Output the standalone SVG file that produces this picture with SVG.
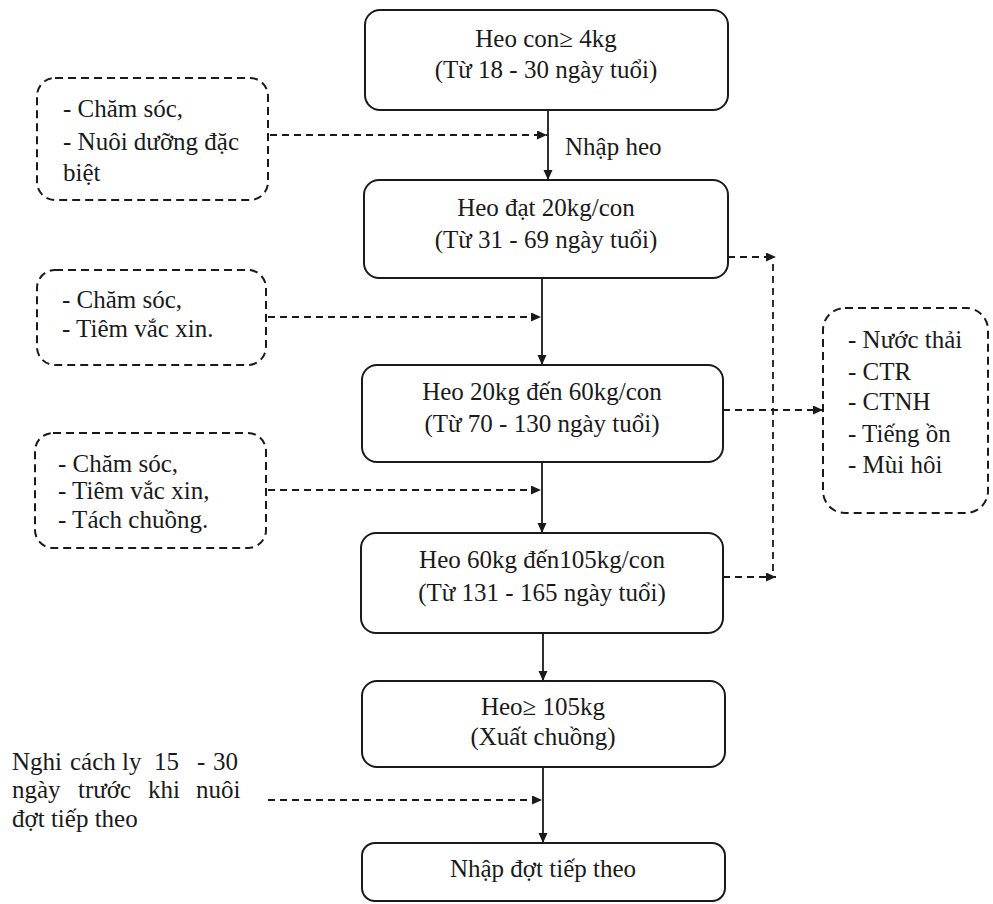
<svg xmlns="http://www.w3.org/2000/svg" width="993" height="904" viewBox="0 0 993 904" font-family="'Liberation Serif', 'DejaVu Serif', serif">
<style>
text{font-family:'Liberation Serif','DejaVu Serif',serif;font-size:25px;fill:#1a1a1a}
.c{text-anchor:middle}
.box{fill:#fff;stroke:#1a1a1a;stroke-width:2}
.dbox{fill:#fff;stroke:#1a1a1a;stroke-width:2;stroke-dasharray:8 5}
.ln{fill:none;stroke:#1a1a1a;stroke-width:1.8}
.dl{fill:none;stroke:#1a1a1a;stroke-width:1.8;stroke-dasharray:7 5}
</style>
<defs>
<marker id="ah" markerWidth="11" markerHeight="10" refX="10" refY="4.5" orient="auto" markerUnits="userSpaceOnUse">
<path d="M0,0 L10,4.5 L0,9 z" fill="#1a1a1a"/>
</marker>
</defs>
<rect width="993" height="904" fill="#fff"/>
<g id="connectors">
<line class="ln" x1="548" y1="110" x2="548" y2="180" marker-end="url(#ah)"/>
<line class="ln" x1="542" y1="278" x2="542" y2="365" marker-end="url(#ah)"/>
<line class="ln" x1="542" y1="462" x2="542" y2="533" marker-end="url(#ah)"/>
<line class="ln" x1="543" y1="633" x2="543" y2="681" marker-end="url(#ah)"/>
<line class="ln" x1="543" y1="767" x2="543" y2="843" marker-end="url(#ah)"/>
<line class="dl" x1="270" y1="135" x2="547" y2="135" marker-end="url(#ah)"/>
<line class="dl" x1="268" y1="317" x2="541" y2="317" marker-end="url(#ah)"/>
<line class="dl" x1="268" y1="490" x2="541" y2="490" marker-end="url(#ah)"/>
<line class="dl" x1="268" y1="800" x2="542" y2="800" marker-end="url(#ah)"/>
<line class="dl" x1="728" y1="257" x2="776" y2="257" marker-end="url(#ah)"/>
<line class="dl" x1="773" y1="264" x2="773" y2="572"/>
<line class="dl" x1="723" y1="577" x2="776" y2="577" marker-end="url(#ah)"/>
<line class="dl" x1="723" y1="410" x2="823" y2="410" marker-end="url(#ah)"/>
<text x="565" y="155">Nhập heo</text>
</g>
<g id="n1">
<rect class="box" x="365" y="10" width="363" height="100" rx="15"/>
<text class="c" x="546" y="47">Heo con≥ 4kg</text>
<text class="c" x="546" y="78">(Từ 18 - 30 ngày tuổi)</text>
</g>
<g id="n2">
<rect class="box" x="364" y="180" width="364" height="98" rx="15"/>
<text class="c" x="546" y="216">Heo đạt 20kg/con</text>
<text class="c" x="546" y="248">(Từ 31 - 69 ngày tuổi)</text>
</g>
<g id="n3">
<rect class="box" x="362" y="365" width="361" height="97" rx="15"/>
<text class="c" x="542" y="400">Heo 20kg đến 60kg/con</text>
<text class="c" x="542" y="432">(Từ 70 - 130 ngày tuổi)</text>
</g>
<g id="n4">
<rect class="box" x="361" y="533" width="362" height="100" rx="15"/>
<text class="c" x="542" y="568">Heo 60kg đến105kg/con</text>
<text class="c" x="542" y="601">(Từ 131 - 165 ngày tuổi)</text>
</g>
<g id="n5">
<rect class="box" x="362" y="681" width="363" height="86" rx="15"/>
<text class="c" x="543" y="715">Heo≥ 105kg</text>
<text class="c" x="543" y="745">(Xuất chuồng)</text>
</g>
<g id="n6">
<rect class="box" x="362" y="843" width="363" height="58" rx="13"/>
<text class="c" x="543" y="877">Nhập đợt tiếp theo</text>
</g>
<g id="l1">
<rect class="dbox" x="37" y="78" width="231" height="122" rx="18"/>
<text x="63" y="117">- Chăm sóc,</text>
<text x="63" y="150">- Nuôi dưỡng đặc</text>
<text x="63" y="181">biệt</text>
</g>
<g id="l2">
<rect class="dbox" x="37" y="270" width="229" height="95" rx="18"/>
<text x="62" y="308">- Chăm sóc,</text>
<text x="62" y="337">- Tiêm vắc xin.</text>
</g>
<g id="l3">
<rect class="dbox" x="35" y="433" width="231" height="115" rx="18"/>
<text x="58" y="472">- Chăm sóc,</text>
<text x="58" y="499">- Tiêm vắc xin,</text>
<text x="58" y="528">- Tách chuồng.</text>
</g>
<g id="l4">
<text y="770"><tspan x="12">Nghi</tspan><tspan x="70">cách ly</tspan><tspan x="154">15</tspan><tspan x="197">-</tspan><tspan x="213">30</tspan></text>
<text y="798"><tspan x="12">ngày</tspan><tspan x="78">trước</tspan><tspan x="148">khi</tspan><tspan x="196">nuôi</tspan></text>
<text x="12" y="827">đợt tiếp theo</text>
</g>
<g id="r1">
<rect class="dbox" x="823" y="308" width="165" height="205" rx="22"/>
<text x="848" y="348">- Nước thải</text>
<text x="848" y="380">- CTR</text>
<text x="848" y="410">- CTNH</text>
<text x="848" y="442">- Tiếng ồn</text>
<text x="848" y="473">- Mùi hôi</text>
</g>
</svg>
